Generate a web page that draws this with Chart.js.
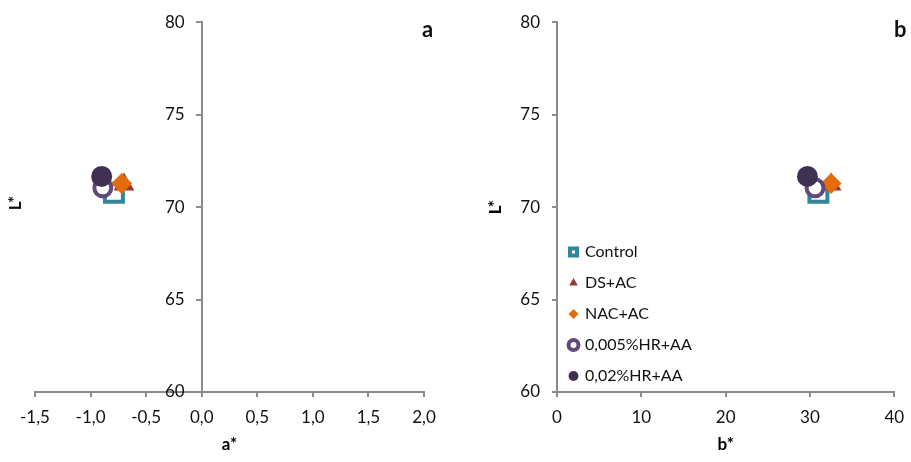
<!DOCTYPE html>
<html>
<head>
<meta charset="utf-8">
<script src="https://cdn.jsdelivr.net/npm/chart.js@4/dist/chart.umd.min.js"></script>
<style>
  body { margin: 0; background: #fff; }
  #wrap { position: relative; width: 911px; height: 462px; font-family: Lato, sans-serif; color: #111; }
  .panel { position: absolute; top: 0; height: 462px; }
  #pa { left: 0; width: 455px; }
  #pb { left: 455px; width: 456px; }
  .tag { position: absolute; top: 18px; font: bold 22px/22px Lato, sans-serif; }
  #ylabA { position: absolute; left: 0; top: 193px; width: 30px; height: 20px; line-height: 20px;
           text-align: center; font: bold 17px/20px Lato, sans-serif; transform: rotate(-90deg); }
</style>
</head>
<body>
<div id="wrap">
  <div class="panel" id="pa"><canvas id="chartA"></canvas></div>
  <div class="panel" id="pb"><canvas id="chartB"></canvas></div>
  <div id="ylabA">L*</div>
  <div class="tag" style="left:422px">a</div>
  <div class="tag" style="left:894px">b</div>
</div>
<script>
// values
const groups = ['Control', 'DS+AC', 'NAC+AC', '0,005%HR+AA', '0,02%HR+AA'];
const aStar = [-0.79, -0.70, -0.72, -0.89, -0.90];
const bStar = [31.0, 32.5, 32.5, 30.6, 29.7];
const lStar = [70.78, 71.22, 71.27, 71.04, 71.66];
const aTicks = [-1.5, -1.0, -0.5, 0.0, 0.5, 1.0, 1.5, 2.0];
const bTicks = [0, 10, 20, 30, 40];
const lTicks = [60, 65, 70, 75, 80];

// marker look per group
const markers = [
  { style: 'rect',     fill: '#ffffff', line: '#31859C', r: 12.7, w: 4 },
  { style: 'triangle', fill: '#953735', line: '#953735', r: 12,   w: 0 },
  { style: 'rectRot',  fill: '#E46C0A', line: '#E46C0A', r: 10.5, w: 0 },
  { style: 'circle',   fill: '#ffffff', line: '#604A7B', r: 8.5,  w: 4 },
  { style: 'circle',   fill: '#403152', line: '#403152', r: 10.5, w: 0 }
];

const AXIS = '#8c8c8c';
const FONT = 'Lato, sans-serif';

function fmtComma(v) { return v.toFixed(1).replace('.', ','); }

function makeDatasets(xs) {
  return groups.map(function (g, i) {
    const m = markers[i];
    return {
      label: g,
      data: [{ x: xs[i], y: lStar[i] }],
      pointStyle: m.style,
      pointRadius: m.r,
      pointHoverRadius: m.r,
      pointBackgroundColor: m.fill,
      pointBorderColor: m.line,
      pointBorderWidth: m.w,
      backgroundColor: m.fill,
      borderColor: m.line,
      borderWidth: m.w,
      order: groups.length - i   // later groups drawn on top
    };
  });
}

function tickList(arr) {
  return function (scale) { scale.ticks = arr.map(function (v) { return { value: v }; }); };
}

function xAxis(ticks, title, fmt) {
  return {
    type: 'linear', position: 'bottom', min: ticks[0], max: ticks[ticks.length - 1],
    afterBuildTicks: tickList(ticks),
    afterFit: function (s) {
      s.height = 70;
      // let layout.padding decide the side margins
      s.paddingLeft = 0;
      s.paddingRight = 0;
    },
    grid: { drawOnChartArea: false, drawTicks: true, tickLength: 5, color: AXIS, lineWidth: 2 },
    border: { color: AXIS, width: 2 },
    ticks: { padding: 10, color: '#111', font: { family: FONT, size: 17 }, callback: fmt, maxRotation: 0 },
    title: { display: true, text: title, color: '#000', font: { family: FONT, size: 17, weight: 'bold' }, padding: { top: 4, bottom: 7 } }
  };
}

function yAxis(extra, fmt) {
  return Object.assign({
    type: 'linear', axis: 'y', min: lTicks[0], max: lTicks[lTicks.length - 1],
    afterBuildTicks: tickList(lTicks),
    grid: { drawOnChartArea: false, drawTicks: true, tickLength: 5, color: AXIS, lineWidth: 2 },
    border: { color: AXIS, width: 2 },
    ticks: { padding: 12, color: '#111', font: { family: FONT, size: 17 }, callback: fmt }
  }, extra);
}

// chartArea legend is laid out from y=0; put it back inside the plot
const legendInPlot = {
  id: 'legendInPlot',
  afterLayout: function (chart) {
    const lg = chart.legend;
    if (!lg) return;
    lg.top = chart.chartArea.top;
    lg.bottom = chart.chartArea.bottom + 7;
    lg.left = chart.chartArea.left - 2;
  }
};

const common = {
  responsive: true, maintainAspectRatio: false, animation: false,
  events: []
};

new Chart(document.getElementById('chartA'), {
  type: 'scatter',
  data: { datasets: makeDatasets(aStar) },
  options: Object.assign({}, common, {
    layout: { padding: { left: 35, right: 31, top: 20, bottom: 0 } },
    plugins: { legend: { display: false }, tooltip: { enabled: false } },
    scales: {
      x: xAxis(aTicks, 'a*', function (v) { return fmtComma(v); }),
      // axis sits at a*=0, labels need their own gap
      y: yAxis({ position: { x: 0 } }, function (v) { return v + '\u2002\u2002'; })
    }
  })
});

new Chart(document.getElementById('chartB'), {
  type: 'scatter',
  data: { datasets: makeDatasets(bStar) },
  options: Object.assign({}, common, {
    layout: { padding: { left: 26, right: 12, top: 20, bottom: 0 } },
    plugins: {
      tooltip: { enabled: false },
      legend: {
        position: 'chartArea', align: 'end', fullSize: false,
        labels: {
          usePointStyle: true, boxWidth: 7, boxHeight: 7, padding: 15, color: '#111',
          font: { family: FONT, size: 16 },
          sort: function (a, b) { return a.datasetIndex - b.datasetIndex; }
        }
      }
    },
    scales: {
      x: xAxis(bTicks, 'b*', function (v) { return String(v); }),
      y: yAxis({
        position: 'left',
        afterFit: function (s) { s.width = 76; },
        title: { display: true, text: 'L*', color: '#000', font: { family: FONT, size: 17, weight: 'bold' }, padding: { top: 4, bottom: 4 } }
      })
    }
  }),
  plugins: [legendInPlot]
});
</script>
</body>
</html>
